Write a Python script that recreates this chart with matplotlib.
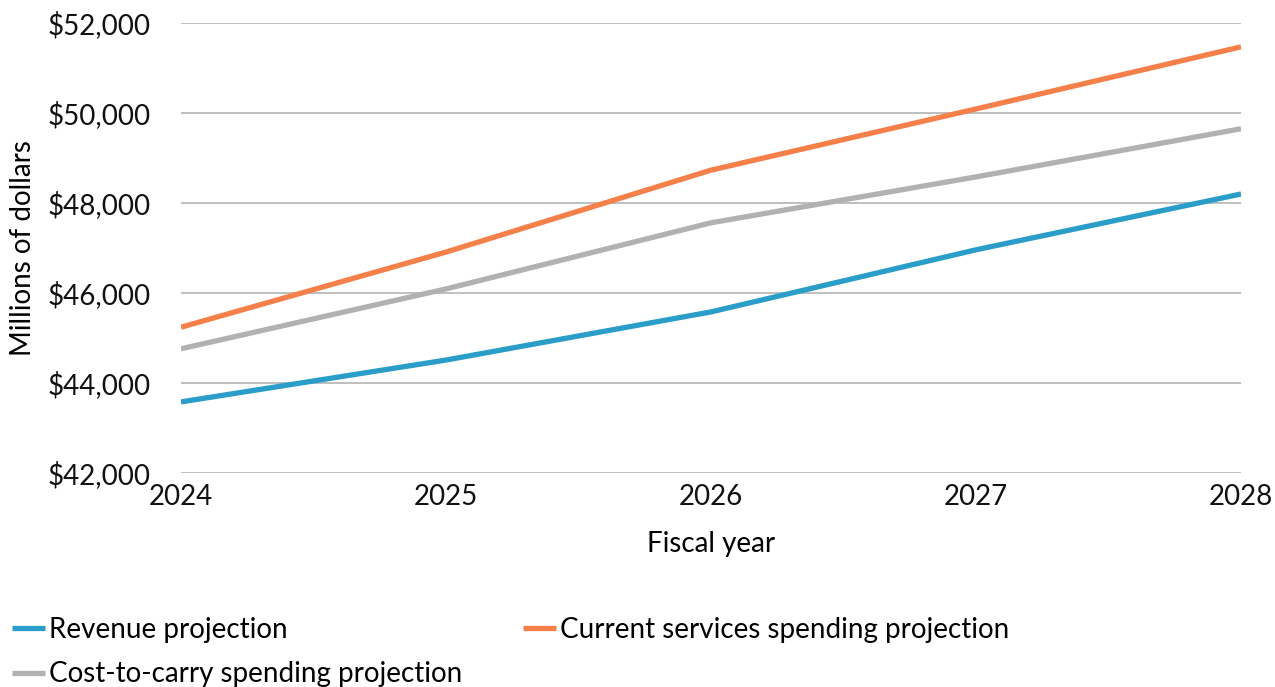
import matplotlib.pyplot as plt
from matplotlib.ticker import FuncFormatter

plt.rcParams["font.family"] = ["Lato", "DejaVu Sans"]

YEARS = [2024, 2025, 2026, 2027, 2028]
REVENUE = [43580, 44510, 45580, 46960, 48200]
CURRENT_SERVICES = [45240, 46910, 48730, 50090, 51470]
COST_TO_CARRY = [44760, 46090, 47560, 48580, 49650]

SERIES = [
    ("Revenue projection", REVENUE, "#2a9dc8"),
    ("Current services spending projection", CURRENT_SERVICES, "#f5804a"),
    ("Cost-to-carry spending projection", COST_TO_CARRY, "#b1b1b1"),
]

FS = 20
W, H = 1275, 687
fig = plt.figure(figsize=(W / 100, H / 100), dpi=100)
ax = fig.add_axes([181 / W, 1 - 473 / H, (1241 - 181) / W, (473 - 23) / H])

handles = []
for label, values, color in SERIES:
    (ln,) = ax.plot(YEARS, values, color=color, lw=3.8, label=label,
                    solid_capstyle="butt", zorder=3)
    handles.append(ln)

ax.set_xlim(2024, 2028)
ax.set_ylim(42000, 52000)
ax.set_xticks(YEARS)
ax.set_yticks(range(42000, 52001, 2000))
ax.yaxis.set_major_formatter(FuncFormatter(lambda v, _: f"${v:,.0f}"))
ax.grid(axis="y", color="#b4b4b4", lw=1.2, zorder=0)
for s in ax.spines.values():
    s.set_visible(False)
ax.tick_params(axis="both", length=0, labelsize=FS, colors="#111111")
ax.tick_params(axis="x", pad=8)
ax.tick_params(axis="y", pad=22)

ax.set_xlabel("Fiscal year", fontsize=FS, labelpad=15)
ax.set_ylabel("Millions of dollars", fontsize=FS)
ax.yaxis.set_label_coords((36 - 181) / 1060, 0.5)

# legend fills column by column: Revenue / Cost-to-carry, then Current services
order = [0, 2, 1]
fig.legend(
    handles=[handles[i] for i in order],
    loc="upper left",
    bbox_to_anchor=(12 / W, 1 - 617 / H),
    ncol=2,
    frameon=False,
    fontsize=FS,
    handlelength=1.2,
    handletextpad=0.12,
    columnspacing=2.2,
    labelspacing=0.66,
    borderpad=0,
    borderaxespad=0,
)

fig.savefig("out.png", dpi=100)
